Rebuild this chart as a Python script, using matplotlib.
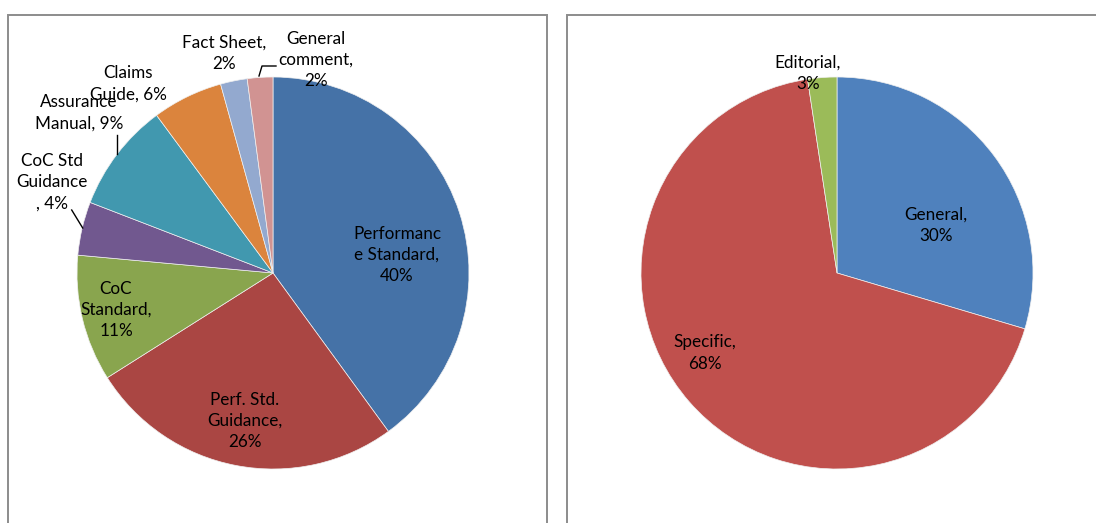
import matplotlib
matplotlib.use("Agg")
import matplotlib.pyplot as plt
from matplotlib.patches import Rectangle

# left pie: comment categories (shares in %)
left_labels = ["Performanc\ne Standard,\n40%", "Perf. Std.\nGuidance,\n26%", "CoC\nStandard,\n11%",
               "CoC Std\nGuidance\n, 4%", "Assurance\nManual, 9%", "Claims\nGuide, 6%",
               "Fact Sheet,\n2%", "General\ncomment,\n2%"]
left_values = [39.9, 26.0, 10.4, 4.4, 9.0, 5.8, 2.2, 2.1]
left_colors = ["#4572A7", "#AA4643", "#89A54E", "#71588F", "#4198AF", "#DB843D", "#93A9CF", "#D19392"]

# right pie: comment type
right_labels = ["General,\n30%", "Specific,\n68%", "Editorial,\n3%"]
right_values = [29.6, 68.0, 2.4]
right_colors = ["#4F81BD", "#C0504D", "#9BBB59"]

W, H = 1096, 523
plt.rcParams["font.family"] = ["Lato", "DejaVu Sans"]

fig = plt.figure(figsize=(W / 100, H / 100), dpi=100)
ax = fig.add_axes([0, 0, 1, 1])


def Y(y):
    return H - y


ax.pie(left_values, colors=left_colors, startangle=90, counterclock=False,
       center=(273, Y(273)), radius=196, frame=True,
       wedgeprops=dict(linewidth=0.5, edgecolor="#f0f0f0"))
ax.pie(right_values, colors=right_colors, startangle=90, counterclock=False,
       center=(837, Y(273)), radius=196, frame=True,
       wedgeprops=dict(linewidth=0.5, edgecolor="#f0f0f0"))

# chart borders (bottom cut off in the source)
for x0, x1 in [(8, 547), (567, 1100)]:
    ax.add_patch(Rectangle((x0, -10), x1 - x0, Y(15) + 10, fill=False,
                           edgecolor="#8c8c8c", linewidth=1.4))

fs = 12.3
ls = 1.42
left_pos = [(397, 255), (245, 421), (116, 310), (52, 182), (79, 113), (128, 84), (224, 53), (316, 60)]
for lab, (x, y) in zip(left_labels, left_pos):
    ax.text(x, Y(y), lab, ha="center", va="center", fontsize=fs, linespacing=ls, color="black")

right_pos = [(936, 225), (705, 353), (808, 73)]
for lab, (x, y) in zip(right_labels, right_pos):
    ax.text(x, Y(y), lab, ha="center", va="center", fontsize=fs, linespacing=ls, color="black")

# leader lines
ax.plot([71.7, 82.7], [Y(210), Y(228)], color="black", lw=1)
ax.plot([117, 117], [Y(135), Y(154)], color="black", lw=1)
ax.plot([259, 262, 276], [Y(76), Y(66), Y(66)], color="black", lw=1)

ax.set_xlim(0, W)
ax.set_ylim(0, H)
ax.axis("off")

fig.savefig("out.png", dpi=100)
